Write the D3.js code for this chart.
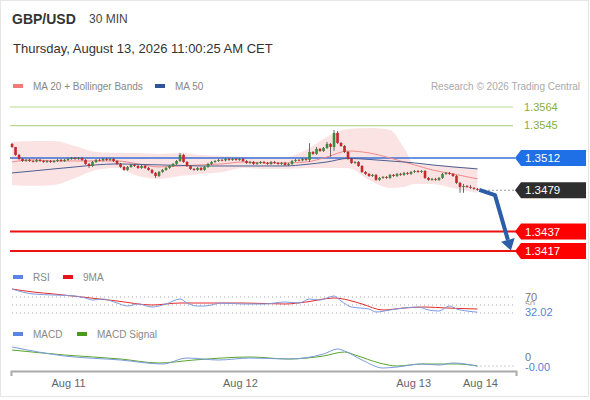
<!DOCTYPE html>
<html>
<head>
<meta charset="utf-8">
<script src="https://cdnjs.cloudflare.com/ajax/libs/d3/7.8.5/d3.min.js"></script>
<style>
  body { margin: 0; background: #fff; font-family: "Liberation Sans", Arial, sans-serif; }
</style>
</head>
<body>
<div id="chart"></div>
<script>
// ---- data ----
var firstOpen = 1.35263;
var closes = [
  1.35232,1.35151,1.35110,1.35089,1.35100,1.35089,1.35084,1.35100,1.35089,1.35079,
  1.35089,1.35079,1.35089,1.35100,1.35089,1.35100,1.35110,1.35120,1.35110,1.35120,
  1.35100,1.35059,1.35038,1.35079,1.35100,1.35095,1.35110,1.35100,1.35110,1.35089,
  1.35059,1.35028,1.34998,1.35028,1.35049,1.35038,1.35018,1.35038,1.35018,1.34998,
  1.34967,1.34936,1.34977,1.34998,1.35018,1.35038,1.35059,1.35089,1.35151,1.35079,
  1.35038,1.35008,1.34998,1.35018,1.34998,1.35028,1.35059,1.35079,1.35089,1.35100,
  1.35095,1.35110,1.35100,1.35110,1.35100,1.35110,1.35089,1.35069,1.35079,1.35059,
  1.35069,1.35079,1.35069,1.35059,1.35079,1.35069,1.35059,1.35069,1.35049,1.35059,
  1.35089,1.35100,1.35095,1.35110,1.35100,1.35181,1.35161,1.35212,1.35191,1.35222,
  1.35263,1.35232,1.35375,1.35273,1.35242,1.35181,1.35110,1.35069,1.35079,1.35038,
  1.34977,1.34957,1.34936,1.34947,1.34896,1.34916,1.34926,1.34916,1.34947,1.34936,
  1.34957,1.34947,1.34967,1.34957,1.34977,1.34987,1.34977,1.34987,1.34916,1.34896,
  1.34906,1.34896,1.34916,1.34957,1.34967,1.34957,1.34936,1.34865,1.34824,1.34834,
  1.34824,1.34814,1.34804,1.34794
];
// wick lengths in pips above / below the body
var wickUp = [
  1,0,1,1,1,1,1,1,1,1, 1,1,1,1,1,1,1,1,1,1, 1,1,1,1,1,1,1,1,1,1, 1,1,1,1,1,1,1,1,1,1,
  1,1,1,1,1,1,1,1,2,1, 1,1,1,1,1,1,1,1,1,1, 1,1,1,1,1,1,1,1,1,1, 1,1,1,1,1,1,1,1,1,1,
  1,1,1,1,1,9,1,2,1,1, 2,1,3,2,1,1,1,1,1,1, 1,1,1,1,1,1,1,1,1,1, 1,1,1,1,1,1,1,1,1,1,
  1,1,1,1,1,1,1,1,1,2, 1,2,1,1
];
var wickDn = [
  1,1,1,1,1,1,1,1,1,1, 1,1,1,1,1,1,1,1,1,1, 1,1,2,1,1,1,1,1,1,1, 1,1,1,1,1,1,1,1,1,1,
  1,2,1,1,1,1,1,1,1,1, 1,1,1,1,1,1,1,1,1,1, 1,1,1,1,1,1,1,1,1,1, 1,1,1,1,1,1,1,1,1,1,
  1,1,1,1,1,2,1,1,1,1, 1,10,4,1,1,1,1,1,1,1, 1,1,1,1,1,1,1,1,1,1, 1,1,1,1,1,1,1,1,1,1,
  1,1,1,1,1,1,1,1,6,6, 1,1,1,1
];

// MA 20 + Bollinger Bands, MA 50 (sampled at candle indices)
var maIdx    = [0,6,12,18,24,30,36,42,48,54,60,66,72,78,84,90,96,102,108,112,115,120,126,133];
var bbUpper  = [1.35283,1.35293,1.35293,1.35242,1.35181,1.35171,1.35171,1.35161,1.35171,1.35151,1.35140,1.35130,
                1.35130,1.35130,1.35202,1.35334,1.35416,1.35426,1.35406,1.35222,1.35059,1.35049,1.35038,1.35018];
var bbLower  = [1.34845,1.34835,1.34845,1.34916,1.34998,1.35018,1.34936,1.34906,1.34936,1.34957,1.34977,1.35018,
                1.35008,1.35008,1.35018,1.35018,1.35018,1.34896,1.34814,1.34824,1.34855,1.34855,1.34814,1.34763];
var ma20     = [1.35079,1.35100,1.35089,1.35089,1.35089,1.35089,1.35059,1.35028,1.35038,1.35049,1.35059,1.35079,
                1.35069,1.35069,1.35079,1.35130,1.35191,1.35171,1.35120,1.35079,1.35049,1.34998,1.34957,1.34906];
var ma50     = [1.34967,1.34987,1.35008,1.35028,1.35049,1.35059,1.35054,1.35049,1.35044,1.35038,1.35038,1.35038,
                1.35038,1.35038,1.35054,1.35079,1.35115,1.35105,1.35089,1.35079,1.35069,1.35049,1.35028,1.35008];

// levels
var resistLevels = [1.3564, 1.3545];
var pivotLevel = 1.3512;
var lastPrice = 1.3479;
var supportLevels = [1.3437, 1.3417];
var targetPrice = 1.3417;

// RSI + 9MA
var rsiIdx = [0,3,6,12,18,21,23,26,30,33,36,40,44,48,50,53,55,60,66,72,78,82,85,88,92,94,97,102,104,108,112,116,119,122,125,127,130,133];
var rsi    = [90,82.5,77.5,75,72.5,67.5,62.5,65,55,47.5,52.5,45,52.5,65,55,47.5,47.5,55,52.5,52.5,57.5,55,65,62.5,72.5,60,45,40,32.5,37.5,42.5,45,37.5,35,47.5,40,35,32.02];
var rsiMaIdx = [0,6,12,20,30,40,48,56,66,78,84,92,96,100,106,112,118,124,133];
var rsiMa    = [90,82.5,77.5,70,60,50,55,55,55,52.5,57.5,67.5,62.5,52.5,37.5,42.5,45,42.5,40];
var rsiLevels = [70, 50, 30];

// MACD
var macdIdx = [0,15,31,43,50,59,68,79,89,93,95,100,106,110,117,122,126,133];
var macd    = [0.0019,0.0010,0.0006,0.0002,0.0008,0.0006,0.0008,0.0007,0.0012,0.0017,0.0015,0.0006,-0.0002,-0.0001,0.0002,0.0001,0.0003,-0.00001];
var sigIdx  = [0,15,31,42,52,68,79,89,95,98,105,110,117,127,133];
var signal  = [0.0016,0.0011,0.0007,0.0003,0.0006,0.0009,0.0007,0.0010,0.0014,0.0011,0.0003,0.0000,0.0002,0.0002,0.0000];

// x axis
var tickIdx = [16, 65.1, 114.6, 133.7];
var tickLabels = ["Aug 11", "Aug 12", "Aug 13", "Aug 14"];

// ---- drawing ----
var W = 590, H = 400;
var svg = d3.select("#chart").append("svg")
    .attr("width", W)
    .attr("height", H)
    .style("display", "block");

svg.append("rect")
    .attr("x", 0.5).attr("y", 0.5)
    .attr("width", 588).attr("height", 396)
    .attr("fill", "#fff")
    .attr("stroke", "#e6e6e6");

var font = "'Liberation Sans', Arial, sans-serif";

// header
svg.append("text").attr("x", 12).attr("y", 23.5)
    .style("font", "bold 14px " + font).attr("fill", "#333").text("GBP/USD");
svg.append("text").attr("x", 89).attr("y", 23)
    .style("font", "12px " + font).attr("fill", "#444").text("30 MIN");
svg.append("text").attr("x", 13).attr("y", 52.5)
    .style("font", "13px " + font).attr("fill", "#333")
    .text("Thursday, August 13, 2026 11:00:25 AM CET");

function legendItem(x, y, color, label) {
  svg.append("rect").attr("x", x).attr("y", y - 2).attr("width", 10).attr("height", 4).attr("fill", color);
  svg.append("text").attr("x", x + 20).attr("y", y).attr("dy", "0.35em")
      .style("font", "10px " + font).attr("fill", "#888").text(label);
}
legendItem(13, 86, "#f47a7a", "MA 20 + Bollinger Bands");
legendItem(155, 86, "#2f5597", "MA 50");
svg.append("text").attr("x", 580).attr("y", 86).attr("dy", "0.35em")
    .attr("text-anchor", "end")
    .style("font", "10px " + font).attr("fill", "#aaa")
    .text("Research \u00a9 2026 Trading Central");

legendItem(13, 277, "#5b86e5", "RSI");
legendItem(63, 277, "#e8141b", "9MA");
legendItem(13, 334, "#5b86e5", "MACD");
legendItem(77, 334, "#4a9a1c", "MACD Signal");

// scales
var x = d3.scaleLinear().domain([-0.3, 144]).range([11, 516]);
var y = d3.scaleLinear().domain([1.3417, 1.3564]).range([251, 107]);
var yRsi = d3.scaleLinear().domain([30, 70]).range([313, 297]);
var yMacd = d3.scaleLinear().domain([0, 0.0019]).range([366, 347]);

var levelX0 = 10, levelX1 = 515;

// Bollinger band
var bbData = maIdx.map(function(d, i) { return {i: d, hi: bbUpper[i], lo: bbLower[i], mid: ma20[i], ma50: ma50[i]}; });
svg.append("path").datum(bbData)
    .attr("fill", "#fcdede").attr("fill-opacity", 0.85)
    .attr("d", d3.area().curve(d3.curveMonotoneX)
      .x(function(d) { return x(d.i); })
      .y0(function(d) { return y(d.lo); })
      .y1(function(d) { return y(d.hi); }));

// resistance lines (green)
resistLevels.forEach(function(v) {
  svg.append("line").attr("x1", levelX0).attr("x2", 513)
      .attr("y1", y(v)).attr("y2", y(v))
      .attr("stroke", "#b9d98f").attr("stroke-width", 1.2);
  svg.append("text").attr("x", 524).attr("y", y(v)).attr("dy", "0.35em")
      .style("font", "11px " + font).attr("fill", "#86b03c").text(v.toFixed(4));
});

// pivot line (blue)
svg.append("line").attr("x1", levelX0).attr("x2", levelX1)
    .attr("y1", y(pivotLevel)).attr("y2", y(pivotLevel))
    .attr("stroke", "#3b6fd6").attr("stroke-width", 1.5);

// support lines (red)
supportLevels.forEach(function(v) {
  svg.append("line").attr("x1", levelX0).attr("x2", 586)
      .attr("y1", y(v)).attr("y2", y(v))
      .attr("stroke", "#ee1111").attr("stroke-width", 2);
});

// moving averages
svg.append("path").datum(bbData)
    .attr("fill", "none").attr("stroke", "#ef8a8a").attr("stroke-width", 1)
    .attr("d", d3.line().curve(d3.curveMonotoneX)
      .x(function(d) { return x(d.i); })
      .y(function(d) { return y(d.mid); }));
svg.append("path").datum(bbData)
    .attr("fill", "none").attr("stroke", "#4a5f92").attr("stroke-width", 1)
    .attr("d", d3.line().curve(d3.curveMonotoneX)
      .x(function(d) { return x(d.i); })
      .y(function(d) { return y(d.ma50); }));

// candles
var candles = closes.map(function(c, i) {
  var o = i === 0 ? firstOpen : closes[i - 1];
  return {i: i, o: o, c: c,
          h: Math.max(o, c) + wickUp[i] * 0.0001,
          l: Math.min(o, c) - wickDn[i] * 0.0001};
});
var cw = 2.6;
var cg = svg.append("g");
cg.selectAll("line").data(candles).enter().append("line")
    .attr("x1", function(d) { return x(d.i); })
    .attr("x2", function(d) { return x(d.i); })
    .attr("y1", function(d) { return y(d.h); })
    .attr("y2", function(d) { return y(d.l); })
    .attr("stroke", "#444").attr("stroke-width", 0.8);
cg.selectAll("rect").data(candles).enter().append("rect")
    .attr("x", function(d) { return x(d.i) - cw / 2; })
    .attr("width", cw)
    .attr("y", function(d) { return y(Math.max(d.o, d.c)); })
    .attr("height", function(d) { return Math.max(0.8, Math.abs(y(d.o) - y(d.c))); })
    .attr("fill", function(d) { return d.c >= d.o ? "#3b8a3b" : "#c9262c"; });

// current price dotted line
var last = candles[candles.length - 1];
svg.append("line").attr("x1", x(last.i) + 3).attr("x2", levelX1)
    .attr("y1", y(lastPrice)).attr("y2", y(lastPrice))
    .attr("stroke", "#333").attr("stroke-dasharray", "1,3");

// forecast arrow
var p0 = [x(last.i + 0.5), y(last.c)],
    p1 = [x(138), y(1.3474)],
    p2 = [x(142.4), y(targetPrice + 0.00025)];
var dx = p2[0] - p1[0], dy = p2[1] - p1[1], len = Math.sqrt(dx * dx + dy * dy);
var ux = dx / len, uy = dy / len, nx = -uy, ny = ux;
var base = [p2[0] - ux * 9, p2[1] - uy * 9];
svg.append("path")
    .attr("d", d3.line()([p0, p1, base]))
    .attr("fill", "none").attr("stroke", "#2b5da8").attr("stroke-width", 4)
    .attr("stroke-linejoin", "round");
svg.append("path")
    .attr("d", d3.line()([[base[0] + nx * 7, base[1] + ny * 7], [p2[0] + ux * 2, p2[1] + uy * 2], [base[0] - nx * 7, base[1] - ny * 7]]) + "Z")
    .attr("fill", "#2b5da8");

// price tags
function tag(v, fill, color) {
  var yy = y(v);
  svg.append("path")
      .attr("d", d3.line()([[515, yy], [521, yy - 8], [586, yy - 8], [586, yy + 8], [521, yy + 8]]) + "Z")
      .attr("fill", fill);
  svg.append("text").attr("x", 525).attr("y", yy).attr("dy", "0.36em")
      .style("font", "11.5px " + font).attr("fill", color).text(v.toFixed(4));
}
tag(pivotLevel, "#1f6fe6", "#fff");
tag(lastPrice, "#2e2e2e", "#fff");
supportLevels.forEach(function(v) { tag(v, "#ff0000", "#fff"); });

// RSI panel
rsiLevels.forEach(function(v) {
  svg.append("line").attr("x1", 12).attr("x2", levelX1)
      .attr("y1", yRsi(v)).attr("y2", yRsi(v))
      .attr("stroke", "#aaa").attr("stroke-width", 1).attr("stroke-dasharray", "1,3");
});
svg.append("text").attr("x", 525).attr("y", yRsi(70)).attr("dy", "0.35em")
    .style("font", "11px " + font).attr("fill", "#777").text("70");
// the 50 label sits behind the current-value label, only its top shows
svg.append("text").attr("x", 525).attr("y", yRsi(50) - 1).attr("dy", "0.35em")
    .style("font", "9px " + font).attr("fill", "#999").text("50");
svg.append("path").datum(rsiMaIdx.map(function(d, i) { return [x(d), yRsi(rsiMa[i])]; }))
    .attr("fill", "none").attr("stroke", "#e52b2b").attr("stroke-width", 1)
    .attr("d", d3.line().curve(d3.curveMonotoneX));
svg.append("path").datum(rsiIdx.map(function(d, i) { return [x(d), yRsi(rsi[i])]; }))
    .attr("fill", "none").attr("stroke", "#7b9be0").attr("stroke-width", 1)
    .attr("d", d3.line().curve(d3.curveMonotoneX));
var rsiLast = rsi[rsi.length - 1];
svg.append("rect").attr("x", 522).attr("y", yRsi(rsiLast) - 7).attr("width", 34).attr("height", 14).attr("fill", "#fff");
svg.append("text").attr("x", 525).attr("y", yRsi(rsiLast)).attr("dy", "0.35em")
    .style("font", "11px " + font).attr("fill", "#5b7fd6").text(rsiLast.toFixed(2));

// MACD panel
svg.append("line").attr("x1", x(133) + 3).attr("x2", levelX1)
    .attr("y1", yMacd(0)).attr("y2", yMacd(0))
    .attr("stroke", "#999").attr("stroke-dasharray", "1,3");
svg.append("text").attr("x", 525).attr("y", yMacd(0) - 9).attr("dy", "0.35em")
    .style("font", "11px " + font).attr("fill", "#777").text("0");
svg.append("path").datum(sigIdx.map(function(d, i) { return [x(d), yMacd(signal[i])]; }))
    .attr("fill", "none").attr("stroke", "#5aa52a").attr("stroke-width", 1)
    .attr("d", d3.line().curve(d3.curveMonotoneX));
svg.append("path").datum(macdIdx.map(function(d, i) { return [x(d), yMacd(macd[i])]; }))
    .attr("fill", "none").attr("stroke", "#7b9be0").attr("stroke-width", 1)
    .attr("d", d3.line().curve(d3.curveMonotoneX));
var macdLast = macd[macd.length - 1];
svg.append("rect").attr("x", 522).attr("y", yMacd(0) - 5).attr("width", 34).attr("height", 13).attr("fill", "#fff");
svg.append("text").attr("x", 525).attr("y", yMacd(0) + 1.5).attr("dy", "0.35em")
    .style("font", "11px " + font).attr("fill", "#5b7fd6").text(macdLast.toFixed(2));

// x axis
var xAxis = d3.axisBottom(x)
    .tickValues(tickIdx)
    .tickSizeInner(0)
    .tickSizeOuter(5)
    .tickPadding(8)
    .tickFormat(function(d, i) { return tickLabels[i]; });
var ax = svg.append("g").attr("transform", "translate(0,371)").call(xAxis);
ax.select(".domain").attr("stroke", "#aaa").attr("stroke-width", 2);
ax.selectAll("text").style("font", "11px " + font).attr("fill", "#666");
</script>
</body>
</html>
